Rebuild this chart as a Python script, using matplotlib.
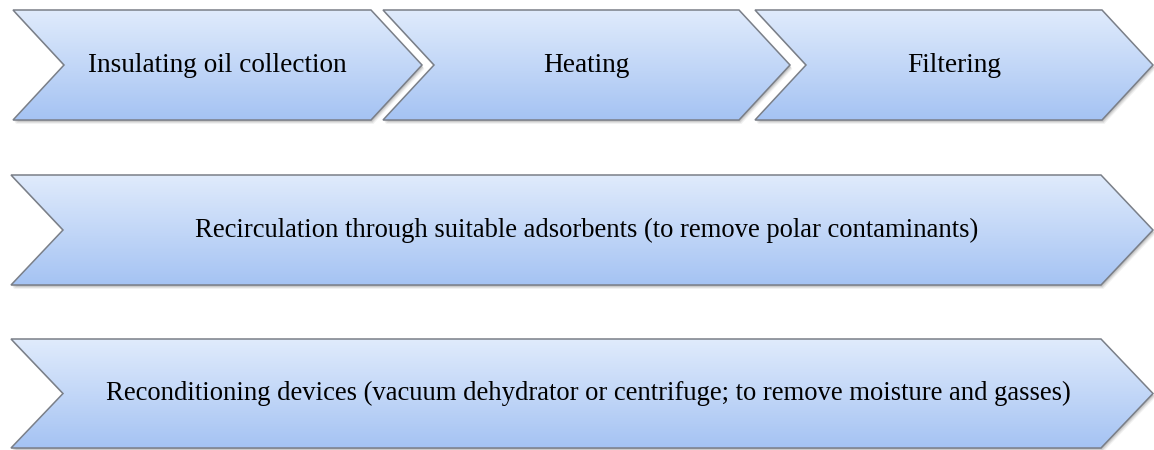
import numpy as np
import matplotlib.pyplot as plt
from matplotlib.patches import Polygon

# Подписи шагов
row1_labels = ['Insulating oil collection', 'Heating', 'Filtering']
row2_label = 'Recirculation through suitable adsorbents (to remove polar contaminants)'
row3_label = 'Reconditioning devices (vacuum dehydrator or centrifuge; to remove moisture and gasses)'

W, H = 1154, 450
fig = plt.figure(figsize=(W / 100, H / 100), dpi=100)
ax = fig.add_axes([0, 0, 1, 1])
ax.set_xlim(0, W)
ax.set_ylim(H, 0)
ax.axis('off')

# градиент сверху вниз
grad = np.linspace(0, 1, 256).reshape(-1, 1)
top_c = np.array([0.878, 0.922, 0.988])
bot_c = np.array([0.647, 0.765, 0.953])
grad_img = top_c + (bot_c - top_c) * grad[..., None]
grad_img = np.repeat(grad_img, 2, axis=1)


def chevron(x0, x1, y0, y1, depth, text, tx=None, fs=19.2):
    ym = (y0 + y1) / 2
    pts = [(x0, y0), (x1 - depth, y0), (x1, ym), (x1 - depth, y1),
           (x0, y1), (x0 + depth, ym)]
    # тень
    for k, a in [(4, 0.05), (3, 0.07), (2, 0.09), (1, 0.1)]:
        sh = Polygon([(px + k * 0.6, py + k) for px, py in pts], closed=True,
                     facecolor='black', edgecolor='none', alpha=a, zorder=1)
        ax.add_patch(sh)
    poly = Polygon(pts, closed=True, facecolor='none', edgecolor='#7a7f88',
                   linewidth=1.1, zorder=3)
    ax.add_patch(poly)
    im = ax.imshow(grad_img, extent=(x0, x1, y1, y0), aspect='auto', zorder=2,
                   interpolation='bilinear')
    im.set_clip_path(poly)
    if tx is None:
        tx = (x0 + x1) / 2
    ax.text(tx, ym, text, ha='center', va='center', fontsize=fs,
            family='Liberation Serif', color='black', zorder=4)


starts = [13, 383, 755]
ends = [422, 790, 1153]
for xs, xe, lab in zip(starts, ends, row1_labels):
    chevron(xs, xe, 10, 120, 51, lab, fs=19.6)

chevron(11, 1153, 175, 285, 52, row2_label, tx=587)
chevron(11, 1153, 339, 448, 52, row3_label, tx=588)

ax.set_ylim(H, 0)
ax.set_xlim(0, W)
fig.savefig('out.png', dpi=100)
